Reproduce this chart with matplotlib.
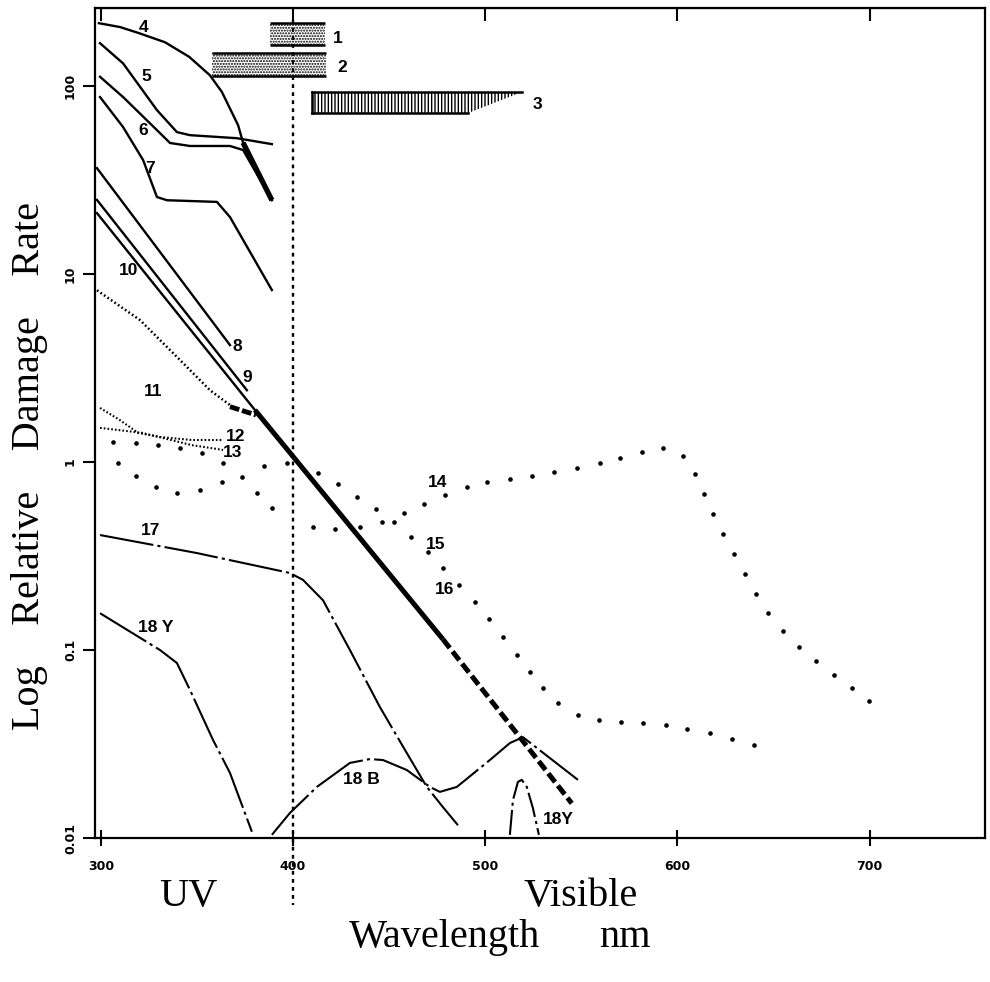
import matplotlib
matplotlib.use("Agg")
import matplotlib.pyplot as plt
from matplotlib.ticker import NullLocator

# ---- data (wavelength nm, relative damage rate) ----
c4_x = [299, 310, 320, 333.4, 346, 356.8, 363, 371.4, 374, 389]
c4_y = [216, 206, 191, 171, 143, 114, 93, 62, 50, 24.7]
c5_x = [299.6, 311.6, 329.2, 339.6, 346.4, 370.8, 389.0]
c5_y = [169, 132, 74.5, 56.9, 54.8, 52.8, 49.1]
c6_x = [299.6, 311.6, 329.2, 336.0, 346.4, 367.2, 374.0, 389.0]
c6_y = [112, 87.4, 58.3, 49.8, 48.0, 48.0, 45.7, 24.7]
c7_x = [299.6, 311.6, 322.0, 329.2, 334.4, 360.4, 367.2, 389.0]
c7_y = [87.4, 60.5, 40.4, 25.7, 24.7, 24.2, 20.1, 8.22]
c8_x = [298, 367.2]
c8_y = [36.6, 4.19]
c9_x = [298, 376.0]
c9_y = [24.8, 2.41]
c10_x = [298, 380.2]
c10_y = [21.1, 1.89]
c11_x = [298, 320.4, 341.2, 356.8, 367.2]
c11_y = [8.2, 5.69, 3.49, 2.41, 2.01]
c11_end_x = [367.2, 380.7]
c11_end_y = [1.97, 1.78]
c12_x = [299.6, 310.0, 319.4, 330.8, 347.4, 363.6]
c12_y = [1.94, 1.67, 1.43, 1.36, 1.31, 1.31]
c13_x = [299.6, 321.4, 347.4, 363.6]
c13_y = [1.52, 1.43, 1.23, 1.16]
c14_x = [309.0, 318.3, 328.7, 339.6, 351.6, 363.0, 373.4, 384.9, 396.8, 413.0,
         423.4, 433.2, 443.1, 452.5, 457.7, 468.1, 479.0, 490.4, 500.8, 512.8,
         524.2, 535.7, 547.6, 559.6, 570.0, 581.5, 592.4, 602.8, 609.0, 613.7,
         618.4, 623.6, 629.3, 635.0, 640.7, 647.0, 654.8, 663.1, 671.9, 681.3,
         690.7, 699.5]
c14_y = [0.99, 0.843, 0.737, 0.684, 0.71, 0.783, 0.832, 0.953, 0.99, 0.873,
         0.763, 0.652, 0.562, 0.48, 0.536, 0.598, 0.668, 0.737, 0.783, 0.813,
         0.843, 0.885, 0.929, 0.99, 1.05, 1.13, 1.19, 1.08, 0.863, 0.676,
         0.529, 0.414, 0.324, 0.254, 0.199, 0.157, 0.126, 0.104, 0.0873, 0.0736,
         0.0628, 0.0536]
c15_x = [306.4, 318.3, 329.8, 341.2, 352.6, 363.6, 381.2, 389.0, 410.4, 421.8,
         434.8, 446.2, 461.3, 470.2, 478.0, 486.3, 494.6, 501.9, 509.2, 516.4,
         523.2, 530.0, 537.8, 548.2, 559.1, 570.5, 582.0, 593.9, 604.8, 616.8,
         628.2, 639.7]
c15_y = [1.28, 1.26, 1.23, 1.19, 1.12, 0.99, 0.684, 0.57, 0.45, 0.44,
         0.45, 0.48, 0.40, 0.332, 0.273, 0.222, 0.18, 0.146, 0.117, 0.094,
         0.0763, 0.0628, 0.0523, 0.0451, 0.0424, 0.0414, 0.041, 0.040, 0.038, 0.0362,
         0.0337, 0.0313]
c16_x = [380.2, 478.0]
c16_y = [1.89, 0.114]
c16_dash_x = [478.0, 545.0]
c16_dash_y = [0.114, 0.0153]
c17_x = [299.6, 350.0, 398.4, 405.2, 415.6, 429.6, 445.2, 459.2, 469.6, 478.0, 485.8]
c17_y = [0.409, 0.328, 0.257, 0.236, 0.184, 0.100, 0.0497, 0.0283, 0.0187, 0.0146, 0.0117]
c18y_x = [299.6, 311.6, 330.8, 339.6, 346.4, 358.4, 367.2, 378.6]
c18y_y = [0.157, 0.132, 0.1, 0.0853, 0.0613, 0.0332, 0.0222, 0.0108]
c18b_x = [389.0, 398.4, 412.4, 429.6, 440.0, 446.8, 459.2, 471.2, 476.4, 485.2,
          502.4, 512.8, 519.6, 548.2]
c18b_y = [0.0104, 0.0136, 0.0187, 0.0251, 0.0263, 0.026, 0.0230, 0.0187, 0.0176, 0.0187,
          0.026, 0.032, 0.0344, 0.0204]
c18y2_x = [512.8, 514.4, 517.0, 519.0, 521.6, 524.8, 527.9]
c18y2_y = [0.0104, 0.0159, 0.0199, 0.0204, 0.0187, 0.0144, 0.0104]

# bands 1-3 at the top (x range, y range)
band1_x = [388.0, 416.6]
band1_y = [165, 216]
band2_x = [357.8, 417.1]
band2_y = [113, 150]
band3_x = [409.8, 491.0, 519.0]
band3_y = [71.8, 92.9]

labels = ["1", "2", "3", "4", "5", "6", "7", "8", "9", "10", "11", "12", "13",
          "14", "15", "16", "17", "18 Y", "18 B", "18Y"]
label_x = [423.4, 425.5, 527.4, 322, 323.5, 322, 325.6, 370.8, 376.0, 314.2, 327.2,
           370.3, 368.8, 475.4, 474.3, 479.0, 326.1, 328.7, 435.8, 537.8]
label_y = [180, 126, 80, 204, 113, 58.3, 36.6, 4.14, 2.8, 10.5, 2.36,
           1.37, 1.12, 0.783, 0.366, 0.209, 0.435, 0.131, 0.0204, 0.0125]

xticks = [300, 400, 500, 600, 700]
yticks = [0.01, 0.1, 1, 10, 100]
ytick_labels = ["0.01", "0.1", "1", "10", "100"]

fig = plt.figure(figsize=(9.9, 9.82), dpi=100)
ax = fig.add_axes([0.096, 0.1466, 0.899, 0.8452])
ax.set_yscale("log")
ax.set_xlim(297, 760)
ax.set_ylim(0.01, 260)

lw = 1.7
k = "black"
ax.plot(c4_x[:-1], c4_y[:-1], color=k, lw=lw)
ax.plot(c4_x[-2:], c4_y[-2:], color=k, lw=3.8, solid_capstyle="butt")
ax.plot(c5_x, c5_y, color=k, lw=lw)
ax.plot(c6_x, c6_y, color=k, lw=lw)
ax.plot(c7_x, c7_y, color=k, lw=lw)
ax.plot(c8_x, c8_y, color=k, lw=lw)
ax.plot(c9_x, c9_y, color=k, lw=lw)
ax.plot(c10_x, c10_y, color=k, lw=lw)
ax.plot(c11_x, c11_y, color=k, lw=1.8, ls=(0, (0.7, 1.0)))
ax.plot(c11_end_x, c11_end_y, color=k, lw=3.5, ls=(0, (2.0, 0.6)))
ax.plot(c12_x, c12_y, color=k, lw=1.5, ls=(0, (0.8, 1.0)))
ax.plot(c13_x, c13_y, color=k, lw=1.5, ls=(0, (0.8, 1.0)))
ax.plot(c14_x, c14_y, ls="none", marker="o", ms=2.3, color=k)
ax.plot(c15_x, c15_y, ls="none", marker="o", ms=2.3, color=k)
ax.plot(c16_x, c16_y, color=k, lw=3.6, solid_capstyle="butt")
ax.plot(c16_dash_x, c16_dash_y, color=k, lw=3.6, ls=(0, (2.2, 0.9)))
dashdot = (0, (26, 2, 1.5, 2))
ax.plot(c17_x, c17_y, color=k, lw=1.5, ls=dashdot)
ax.plot(c18y_x, c18y_y, color=k, lw=1.5, ls=dashdot)
ax.plot(c18b_x, c18b_y, color=k, lw=1.5, ls=dashdot)
ax.plot(c18y2_x, c18y2_y, color=k, lw=1.5, ls=(0, (12, 2, 1.5, 2)))

# bands
ax.fill_between(band1_x, band1_y[0], band1_y[1], facecolor="white",
                edgecolor=k, hatch="......", linewidth=0)
ax.hlines(band1_y, band1_x[0], band1_x[1], color=k, lw=1.8)
ax.fill_between(band2_x, band2_y[0], band2_y[1], facecolor="white",
                edgecolor=k, hatch="......", linewidth=0)
ax.hlines(band2_y, band2_x[0], band2_x[1], color=k, lw=1.8)
ax.fill([band3_x[0], band3_x[1], band3_x[2], band3_x[0]],
        [band3_y[0], band3_y[0], band3_y[1], band3_y[1]],
        facecolor="white", edgecolor=k, hatch="|||||", linewidth=0)
ax.plot([band3_x[0], band3_x[2]], [band3_y[1], band3_y[1]], color=k, lw=1.8)
ax.plot([band3_x[0], band3_x[1]], [band3_y[0], band3_y[0]], color=k, lw=1.8)
ax.plot([band3_x[0], band3_x[0]], band3_y, color=k, lw=1.8)

# UV / visible boundary
ax.plot([400, 400], [224, 0.0044], color=k, lw=1.7, ls=(0, (1.6, 1.8)),
        clip_on=False)

for t, x, y in zip(labels, label_x, label_y):
    ax.text(x, y, t, ha="center", va="center", fontsize=12.5, fontweight="bold",
            family="Liberation Sans")

# axes styling
for s in ax.spines.values():
    s.set_linewidth(1.6)
ax.set_xticks(xticks)
ax.set_xticklabels([str(v) for v in xticks], fontsize=9, fontweight="bold")
ax.set_yticks(yticks)
ax.set_yticklabels(ytick_labels, fontsize=9, fontweight="bold", rotation=90,
                   va="center")
ax.yaxis.set_minor_locator(NullLocator())
ax.tick_params(axis="y", direction="out", length=9, width=1.5, pad=4)
ax.tick_params(axis="x", direction="inout", length=12, width=1.5, pad=10)
top = ax.secondary_xaxis("top")
top.set_xticks(xticks)
top.tick_params(direction="in", length=9, width=1.5, labeltop=False)

serif = "Liberation Serif"
fig.text(0.030, 0.525, "Log    Relative    Damage    Rate", rotation=90,
         ha="center", va="center", fontsize=29, family=serif)
fig.text(0.190, 0.0866, "UV", ha="center", va="center", fontsize=29, family=serif)
fig.text(0.586, 0.0866, "Visible", ha="center", va="center", fontsize=29, family=serif)
fig.text(0.449, 0.0458, "Wavelength", ha="center", va="center", fontsize=29, family=serif)
fig.text(0.631, 0.0458, "nm", ha="center", va="center", fontsize=29, family=serif)

fig.savefig("out.png", dpi=100)
